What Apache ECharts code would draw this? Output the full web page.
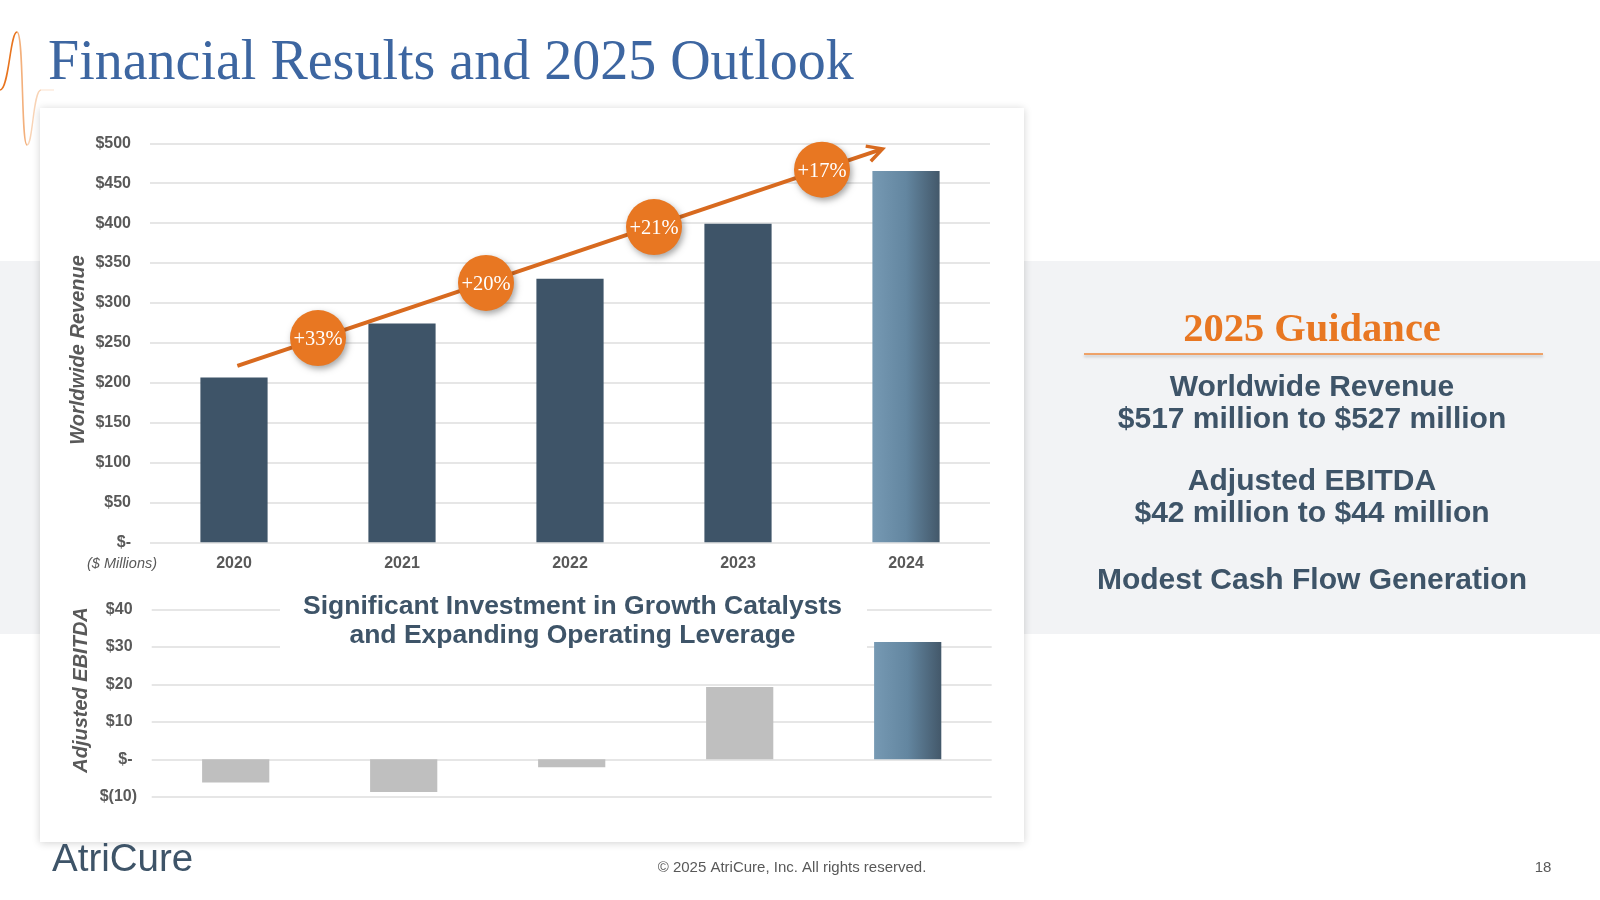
<!DOCTYPE html>
<html><head><meta charset="utf-8">
<script src="https://cdn.jsdelivr.net/npm/echarts@6/dist/echarts.min.js"></script>
<style>html,body{margin:0;padding:0;background:#fff}#c{width:1600px;height:900px}</style>
</head><body><div id="c"></div>
<script>
// ---- data ----
const years = ['2020', '2021', '2022', '2023', '2024'];
const revenue = [206.5, 274.3, 330.4, 399.2, 465.3];
const ebitda = [-6.2, -8.7, -2.1, 19.3, 31.3];
const growthLabels = ['+33%', '+20%', '+21%', '+17%'];
const growthX = [0.5, 1.5, 2.5, 3.5];
const growthY = [256, 325, 395, 467];
const trendStart = [0.02, 221];
const trendEnd = [3.86, 493];
const revenueTickLabels = ['$-', '$50', '$100', '$150', '$200', '$250', '$300', '$350', '$400', '$450', '$500'];
const ebitdaTickLabels = ['$(10)', '$- ', '$10 ', '$20 ', '$30 ', '$40 '];
const guidanceLines = ['Worldwide Revenue', '$517 million to $527 million', 'Adjusted EBITDA', '$42 million to $44 million', 'Modest Cash Flow Generation'];

// ---- styles ----
const SANS = "'Liberation Sans', Arial, sans-serif";
const SERIF = "'Liberation Serif', 'Times New Roman', serif";
const DARK = '#3E5468';
const GREY = '#595959';
const ORANGE = '#E87722';
const GRID = '#DEDEDE';
const grad = () => ({ type: 'linear', x: 0, y: 0, x2: 1, y2: 0,
  colorStops: [{ offset: 0, color: '#7699B3' }, { offset: 0.5, color: '#6386A0' }, { offset: 1, color: '#43586A' }] });

const chart = echarts.init(document.getElementById('c'), null, { renderer: 'canvas' });

const guidanceY = [387.7, 419.3, 481.6, 514.2, 580.6];
const graphics = [
  { type: 'rect', z: -100, shape: { x: 0, y: 261, width: 1600, height: 373 }, style: { fill: '#F2F3F5' } },
  { type: 'rect', z: -50, shape: { x: 40, y: 108, width: 984, height: 734 },
    style: { fill: '#fff', shadowBlur: 8, shadowColor: 'rgba(0,0,0,0.18)', shadowOffsetY: 1 } },
  { type: 'text', z: 10, x: 48, y: 64, style: { text: 'Financial Results and 2025 Outlook', fill: '#3D66A1',
    font: "56px " + SERIF, align: 'left', verticalAlign: 'middle' } },
  // decorative wave
  { type: 'bezierCurve', z: 10, shape: { x1: 0, y1: 90, cpx1: 9, cpy1: 90, cpx2: 10, cpy2: 32, x2: 17, y2: 32 },
    style: { stroke: '#E8741E', lineWidth: 1.6, fill: null } },
  { type: 'bezierCurve', z: 10, shape: { x1: 17, y1: 32, cpx1: 24, cpy1: 32, cpx2: 21, cpy2: 145, x2: 27, y2: 145 },
    style: { stroke: '#F3B07C', lineWidth: 1.6, fill: null } },
  { type: 'bezierCurve', z: 10, shape: { x1: 27, y1: 145, cpx1: 33, cpy1: 145, cpx2: 33, cpy2: 90, x2: 41, y2: 90 },
    style: { stroke: '#F8D3B5', lineWidth: 1.4, fill: null } },
  { type: 'line', z: 10, shape: { x1: 41, y1: 90, x2: 54, y2: 90 }, style: { stroke: '#FBE6D6', lineWidth: 1.2 } },
  { type: 'text', z: 10, x: 122, y: 564, style: { text: '($ Millions)', fill: GREY, font: "italic 14.5px " + SANS,
    align: 'center', verticalAlign: 'middle' } },
  // axis titles
  { type: 'text', z: 10, x: 78.5, y: 350, rotation: Math.PI / 2, style: { text: 'Worldwide Revenue', fill: GREY,
    font: "italic bold 20px " + SANS, align: 'center', verticalAlign: 'middle' } },
  { type: 'text', z: 10, x: 81.5, y: 690, rotation: Math.PI / 2, style: { text: 'Adjusted EBITDA', fill: GREY,
    font: "italic bold 20px " + SANS, align: 'center', verticalAlign: 'middle' } },
  // bottom chart caption
  { type: 'rect', z: 1, shape: { x: 280, y: 590, width: 587, height: 66 }, style: { fill: '#fff' } },
  { type: 'text', z: 10, x: 572.5, y: 607, style: { text: 'Significant Investment in Growth Catalysts', fill: DARK,
    font: "bold 26.5px " + SANS, align: 'center', verticalAlign: 'middle' } },
  { type: 'text', z: 10, x: 572.5, y: 635.5, style: { text: 'and Expanding Operating Leverage', fill: DARK,
    font: "bold 26.5px " + SANS, align: 'center', verticalAlign: 'middle' } },
  // guidance
  { type: 'text', z: 10, x: 1312, y: 331, style: { text: '2025 Guidance', fill: ORANGE, font: "bold 40.5px " + SERIF,
    align: 'center', verticalAlign: 'middle' } },
  { type: 'line', z: 10, shape: { x1: 1084, y1: 354, x2: 1543, y2: 354 },
    style: { stroke: '#F08A3C', lineWidth: 1.5, shadowBlur: 3, shadowColor: 'rgba(0,0,0,0.25)', shadowOffsetY: 2 } },
  // footer
  { type: 'text', z: 10, x: 52, y: 860, style: { text: 'AtriCure', fill: DARK, font: "38.5px " + SANS,
    align: 'left', verticalAlign: 'middle' } },
  { type: 'text', z: 10, x: 792, y: 868, style: { text: '\u00A9 2025 AtriCure, Inc. All rights reserved.', fill: GREY,
    font: "15px " + SANS, align: 'center', verticalAlign: 'middle' } },
  { type: 'text', z: 10, x: 1543, y: 868, style: { text: '18', fill: GREY, font: "15px " + SANS,
    align: 'center', verticalAlign: 'middle' } }
];
guidanceLines.forEach((t, i) => graphics.push({ type: 'text', z: 10, x: 1312, y: guidanceY[i],
  style: { text: t, fill: DARK, font: "bold 30px " + SANS, align: 'center', verticalAlign: 'middle' } }));

const labelStyle = { fontWeight: 'bold', fontSize: 16, color: GREY, fontFamily: SANS };

const option = {
  animation: false,
  backgroundColor: '#fff',
  graphic: { elements: graphics },
  grid: [
    { left: 150, width: 840, top: 143.3, height: 399 },
    { left: 151.7, width: 840, top: 609.3, height: 187.5 }
  ],
  xAxis: [
    { type: 'category', gridIndex: 0, data: years, axisTick: { show: false },
      axisLine: { show: false }, axisLabel: Object.assign({ margin: 13 }, labelStyle) },
    { type: 'value', gridIndex: 0, min: -0.5, max: 4.5, show: false, position: 'top' },
    { type: 'category', gridIndex: 1, data: years, axisTick: { show: false },
      axisLine: { show: false }, axisLabel: { show: false } }
  ],
  yAxis: [
    { type: 'value', gridIndex: 0, min: 0, max: 500, interval: 50,
      axisLine: { show: false }, axisTick: { show: false },
      axisLabel: Object.assign({ margin: 19, formatter: (v, i) => revenueTickLabels[i] }, labelStyle),
      splitLine: { lineStyle: { color: GRID, width: 1.5 } } },
    { type: 'value', gridIndex: 1, min: -10, max: 40, interval: 10,
      axisLine: { show: false }, axisTick: { show: false },
      axisLabel: Object.assign({ margin: 14.7, formatter: (v, i) => ebitdaTickLabels[i] }, labelStyle),
      splitLine: { lineStyle: { color: GRID, width: 1.5 } } }
  ],
  series: [
    { type: 'bar', xAxisIndex: 0, yAxisIndex: 0, barWidth: '40%', z: 2,
      data: revenue.map((v, i) => ({ value: v, itemStyle: { color: i === revenue.length - 1 ? grad() : DARK } })) },
    { type: 'bar', xAxisIndex: 2, yAxisIndex: 1, barWidth: '40%', z: 2,
      data: ebitda.map((v, i) => ({ value: v, itemStyle: { color: i === ebitda.length - 1 ? grad() : '#BFBFBF' } })) },
    { type: 'custom', xAxisIndex: 1, yAxisIndex: 0, z: 5, silent: true,
      data: [[trendStart[0], trendStart[1], trendEnd[0], trendEnd[1]]],
      renderItem: (params, api) => {
        const p0 = api.coord([api.value(0), api.value(1)]);
        const p1 = api.coord([api.value(2), api.value(3)]);
        const dx = p0[0] - p1[0], dy = p0[1] - p1[1];
        const len = Math.sqrt(dx * dx + dy * dy);
        const ux = dx / len, uy = dy / len;
        const L = 17, th = 28 * Math.PI / 180;
        const arm = (a) => [p1[0] + L * (ux * Math.cos(a) - uy * Math.sin(a)), p1[1] + L * (ux * Math.sin(a) + uy * Math.cos(a))];
        return { type: 'group', children: [
          { type: 'line', shape: { x1: p0[0], y1: p0[1], x2: p1[0] + ux * 1.5, y2: p1[1] + uy * 1.5 },
            style: { stroke: '#D86A1F', lineWidth: 4 } },
          { type: 'polyline', shape: { points: [arm(th), p1, arm(-th)] },
            style: { stroke: '#D86A1F', lineWidth: 3.5, fill: null, lineJoin: 'miter' } }
        ] };
      } },
    { type: 'scatter', xAxisIndex: 1, yAxisIndex: 0, z: 6, symbol: 'circle', symbolSize: 56, silent: true,
      itemStyle: { color: ORANGE, shadowBlur: 6, shadowOffsetX: 2, shadowOffsetY: 3, shadowColor: 'rgba(0,0,0,0.35)', opacity: 1 },
      label: { show: true, position: 'inside', formatter: (p) => growthLabels[p.dataIndex], offset: [0, 2],
        color: '#fff', fontSize: 20.5, fontFamily: SERIF },
      data: growthX.map((x, i) => [x, growthY[i]]) }
  ]
};
chart.setOption(option);
</script>
</body></html>
